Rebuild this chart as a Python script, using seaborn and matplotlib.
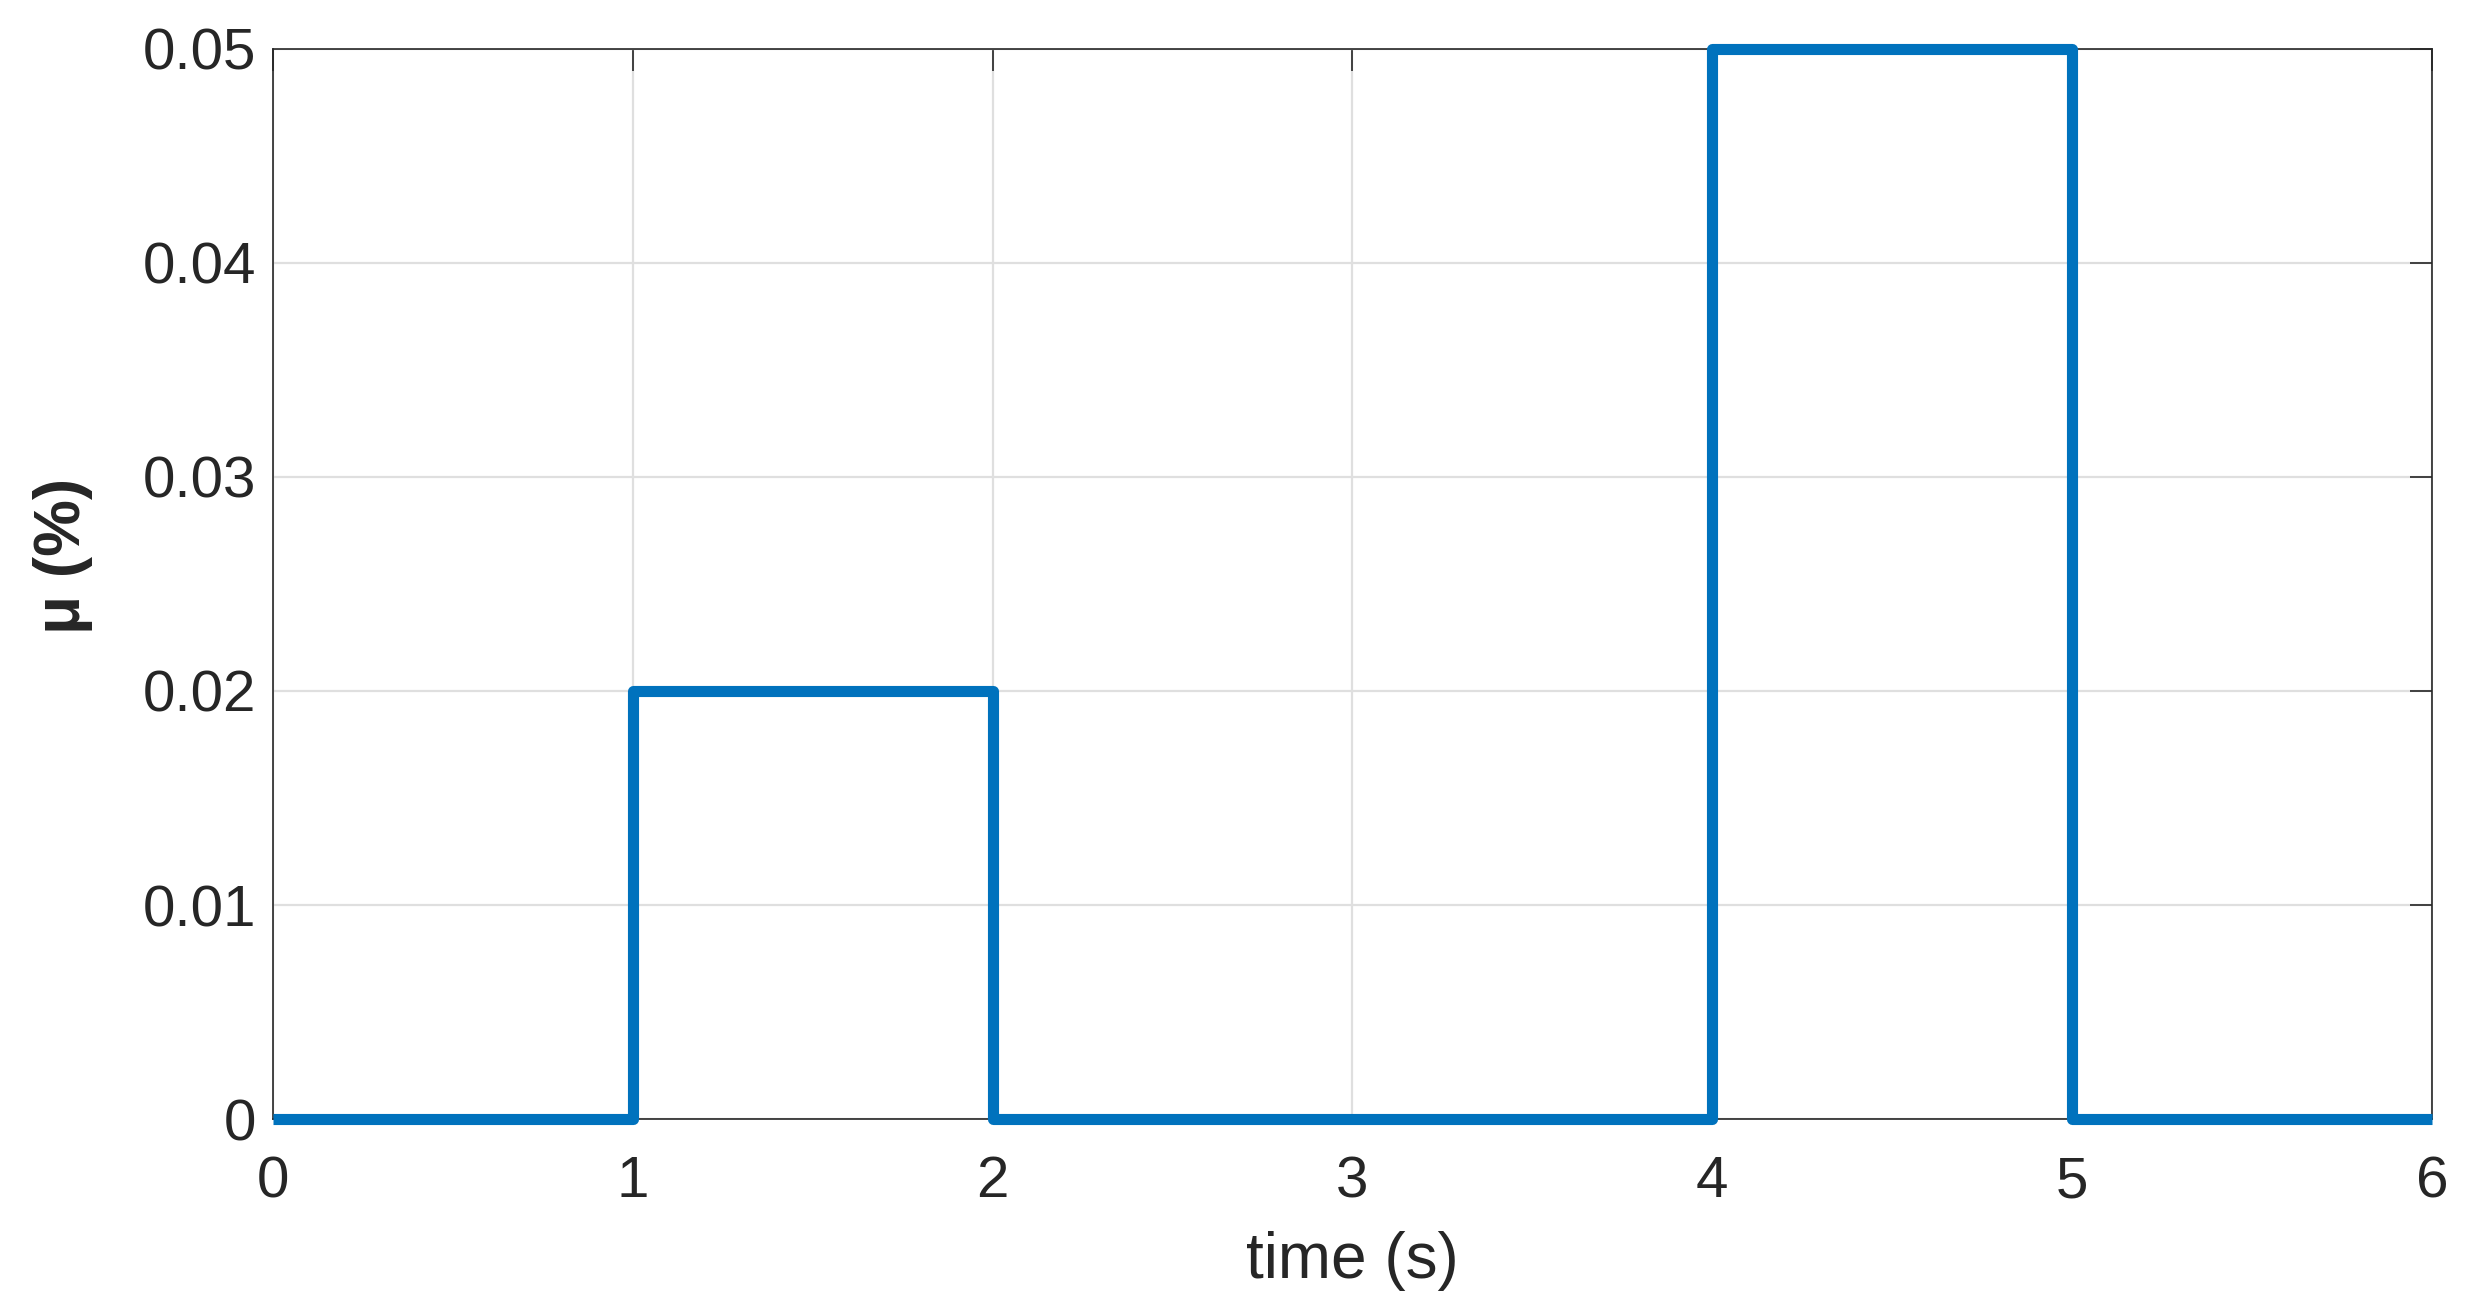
import matplotlib
matplotlib.use('Agg')
import matplotlib.pyplot as plt
import seaborn as sns
import pandas as pd

# step signal: value holds from each time until the next one
time_s = [0, 1, 2, 4, 5, 6]
mu_pct = [0, 0.02, 0, 0.05, 0, 0]

x_ticks = [0, 1, 2, 3, 4, 5, 6]
y_ticks = [0, 0.01, 0.02, 0.03, 0.04, 0.05]
y_tick_labels = ['0', '0.01', '0.02', '0.03', '0.04', '0.05']

df = pd.DataFrame({'time': time_s, 'mu': mu_pct})

sns.set_style('white')
plt.rcParams['font.family'] = ['Liberation Sans', 'DejaVu Sans']

fig = plt.figure(figsize=(12.37, 6.56), dpi=200)
ax = fig.add_axes([0.1103, 0.147, 0.983 - 0.1103, 0.963 - 0.147])

sns.lineplot(data=df, x='time', y='mu', ax=ax, color='#0072BD',
             linewidth=4, drawstyle='steps-post', solid_joinstyle='round',
             solid_capstyle='butt', clip_on=False, zorder=5)

ax.set_xlim(0, 6)
ax.set_ylim(0, 0.05)
ax.set_xticks(x_ticks)
ax.set_xticklabels([str(t) for t in x_ticks])
ax.set_yticks(y_ticks)
ax.set_yticklabels(y_tick_labels)

ax.grid(True, color='#DFDFDF', linewidth=0.8)
ax.set_axisbelow(True)
for s in ax.spines.values():
    s.set_color('#262626')
    s.set_linewidth(0.6)
    s.set_visible(True)

ax.tick_params(axis='both', direction='in', length=8, width=0.6,
               color='#262626', labelcolor='#262626', labelsize=21,
               top=True, right=True)
ax.tick_params(axis='x', pad=13)
ax.tick_params(axis='y', pad=6)

ax.set_xlabel('time (s)', fontsize=23, color='#262626', labelpad=8)
ax.set_ylabel('μ (%)', fontsize=23, color='#262626', fontweight='bold')
ax.yaxis.set_label_coords(-0.0834, 0.526)

fig.savefig('out.png', dpi=200)
